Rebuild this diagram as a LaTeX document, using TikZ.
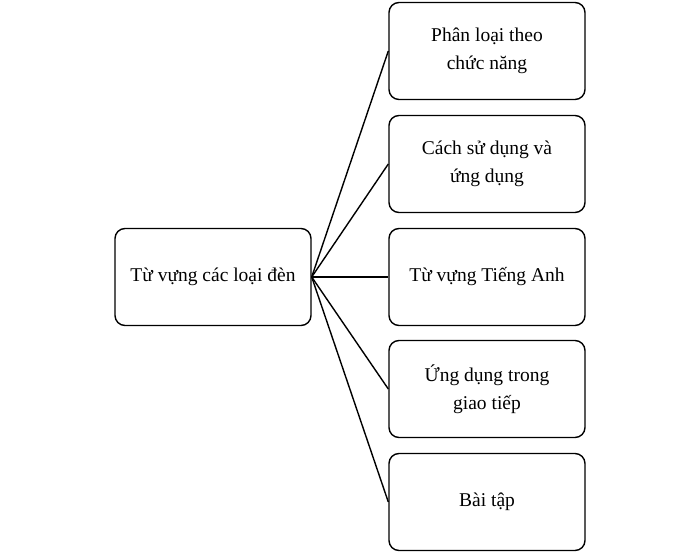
\documentclass[tikz,border=0pt]{standalone}
\usepackage{fontspec}
\setmainfont{Liberation Serif}
\tikzset{
    topicbox/.style={draw,line width=1.4pt,rounded corners=10pt,minimum width=196pt,minimum height=97pt,align=center,inner sep=0pt,font=\fontsize{19.5}{28}\selectfont},
    branch/.style={line width=1.4pt}
}
\begin{document}
\begin{tikzpicture}[x=1pt,y=1pt]
    \useasboundingbox (0,0) rectangle (700,556);
	\node[topicbox] (main) at (213,279) {Từ vựng các loại đèn};
	\node[topicbox] (func) at (487,505) {Phân loại theo\\chức năng};
	\node[topicbox] (use) at (487,392) {Cách sử dụng và\\ứng dụng};
	\node[topicbox] (eng) at (487,279) {Từ vựng Tiếng Anh};
	\node[topicbox] (talk) at (487,167) {Ứng dụng trong\\giao tiếp};
	\node[topicbox] (exer) at (487,54) {Bài tập};
    \foreach \n in {func,use,eng,talk,exer}
        \draw[branch] (main.east) -- (\n.west);
\end{tikzpicture}
\end{document}
